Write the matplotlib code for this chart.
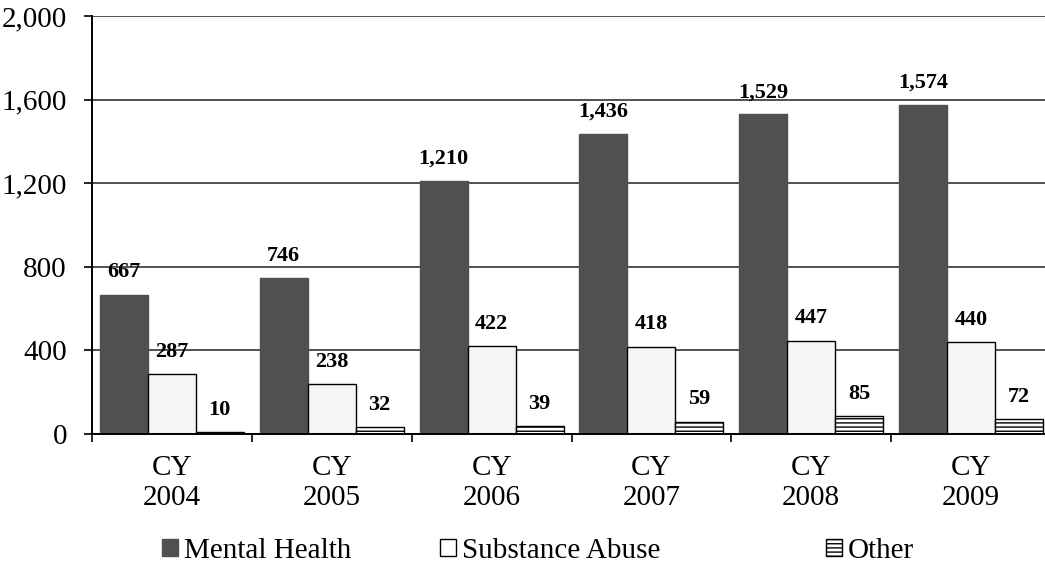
#/usr/bin/env python
'''
Grouped bar chart: admissions by type, CY 2004 - CY 2009
'''

import numpy as np
import matplotlib
matplotlib.use('Agg')
import matplotlib.pyplot as plt
from matplotlib.patches import Patch

years = ['CY\n2004', 'CY\n2005', 'CY\n2006', 'CY\n2007', 'CY\n2008', 'CY\n2009']
mental = [667, 746, 1210, 1436, 1529, 1574]
substance = [287, 238, 422, 418, 447, 440]
other = [10, 32, 39, 59, 85, 72]

yticks = [0, 400, 800, 1200, 1600, 2000]
ytick_labels = ['0', '400', '800', '1,200', '1,600', '2,000']


def main():
    '''
        Draw the chart and save it
    '''
    plt.rcParams['font.family'] = ['Liberation Serif', 'DejaVu Serif']
    plt.rcParams['hatch.linewidth'] = 1.0

    fig = plt.figure(figsize=(10.45, 5.77), dpi=100)
    ax = fig.add_axes([92 / 1045., 1 - 434 / 577., 959 / 1045., 418 / 577.])

    x = np.arange(len(years))
    w = 0.3

    b1 = ax.bar(x - w, mental, w, color='#505050', edgecolor='#505050', zorder=3)
    b2 = ax.bar(x, substance, w, color='#f5f5f5', edgecolor='black', linewidth=1.0, zorder=3)
    b3 = ax.bar(x + w, other, w, color='white', edgecolor='black', linewidth=1.0,
                hatch='----', zorder=3)

    for bars in (b1, b2, b3):
        for rect in bars:
            h = rect.get_height()
            ax.annotate('{:,}'.format(int(h)),
                        (rect.get_x() + rect.get_width() / 2., h),
                        xytext=(0, 16), textcoords='offset points',
                        ha='center', va='center', fontsize=16, fontweight='bold')

    ax.set_xlim(-0.5, len(years) - 0.5)
    ax.set_ylim(0, 2000)
    ax.set_yticks(yticks)
    ax.set_yticklabels(ytick_labels, fontsize=21)
    ax.yaxis.grid(True, color='#222222', linewidth=1.1, zorder=0)

    ax.set_xticks(x)
    ax.set_xticklabels(years, fontsize=21, linespacing=1.2)
    ax.tick_params(axis='x', which='major', length=0, pad=15)
    ax.set_xticks(np.arange(len(years)) - 0.5, minor=True)
    ax.tick_params(axis='x', which='minor', length=6, width=1.2, direction='out')
    ax.tick_params(axis='y', length=6, width=1.2, pad=12, direction='out')

    for s in ('top', 'right'):
        ax.spines[s].set_visible(False)
    for s in ('left', 'bottom'):
        ax.spines[s].set_linewidth(1.4)
        ax.spines[s].set_zorder(4)

    # legend entries spaced like the original
    handles = [Patch(facecolor='#505050', edgecolor='#505050'),
               Patch(facecolor='white', edgecolor='black'),
               Patch(facecolor='white', edgecolor='black', hatch='----')]
    names = ['Mental Health', 'Substance Abuse', 'Other']
    xpos = [162 / 1045., 440 / 1045., 826 / 1045.]
    for h, n, xp in zip(handles, names, xpos):
        fig.legend([h], [n], loc='center left', bbox_to_anchor=(xp, 1 - 551 / 577.),
                   frameon=False, fontsize=21, handlelength=0.55, handleheight=0.55,
                   handletextpad=0.2, borderpad=0, borderaxespad=0)

    fig.savefig('out.png', dpi=100)
    plt.close(fig)


if __name__ == '__main__':
    main()
